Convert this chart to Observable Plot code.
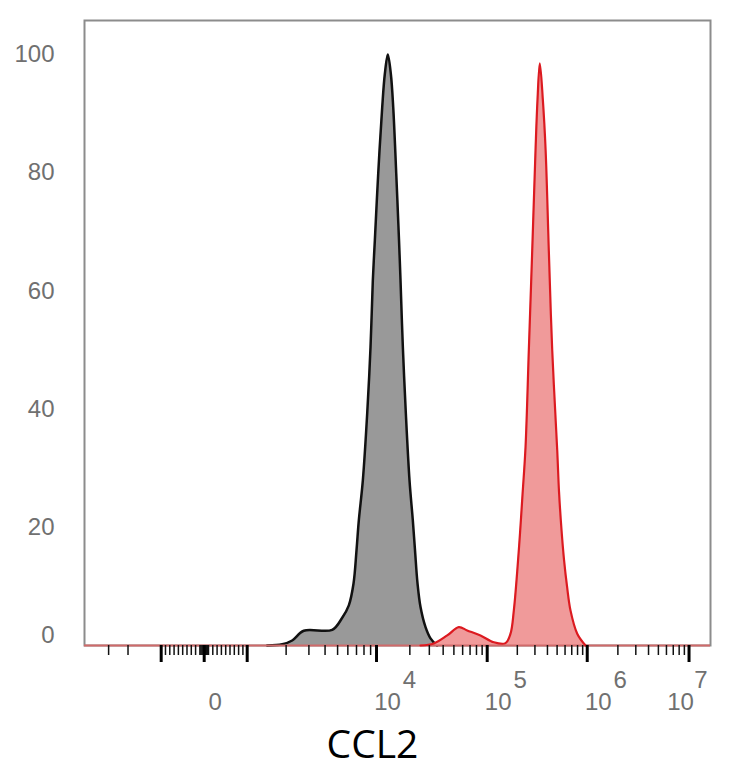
<!DOCTYPE html>
<html>
<head>
<meta charset="utf-8">
<script src="https://cdn.jsdelivr.net/npm/d3@7"></script>
<script src="https://cdn.jsdelivr.net/npm/@observablehq/plot@0.6"></script>
<style>
  html, body { margin: 0; padding: 0; background: #fff; }
</style>
</head>
<body>
<div id="chart"></div>
<script>
// ---- data (fluorescence intensity vs. % of max) ----
const controlX = [1428, 1865, 2228, 2740, 4544, 5428, 6107, 6640, 7002, 7298, 7834, 8472, 8985, 9363, 9703, 10360, 11257, 11883, 12650, 13470, 14150, 15064, 15970, 16470, 17290, 18400, 19870, 21270, 22270, 23460, 24970, 27720, 30740, 35320];
const controlY = [0, 0.2, 0.85, 2.5, 2.65, 4.7, 6.8, 10.5, 16.1, 21.2, 27.9, 39.3, 50.5, 61.8, 68.5, 79.9, 91.1, 96.7, 100, 96.7, 91.1, 79.9, 68.5, 61.8, 50.5, 39.3, 27.9, 21.2, 16.1, 10.5, 6.5, 3.1, 1.2, 0];

const ccl2X = [24970, 32930, 43520, 55390, 65960, 86990, 116400, 152400, 171000, 184500, 199500, 212800, 225400, 241500, 260600, 281800, 304100, 318400, 335700, 359700, 383700, 413000, 446700, 501200, 522400, 553400, 586100, 628100, 680800, 794300, 961600];
const ccl2Y = [0, 0.35, 1.7, 3.1, 2.55, 1.7, 0.55, 0.4, 2.0, 5.9, 12.5, 19.0, 25.5, 33.5, 49.9, 66.8, 83.8, 92.4, 98.5, 92.4, 83.8, 66.8, 49.9, 33.0, 26.0, 19.5, 14.5, 10.0, 5.9, 2.0, 0];

const yTicks = [0, 20, 40, 60, 80, 100];
const majorTicks = [-1000, 0, 1000, 1e4, 1e5, 1e6, 1e7];
const xLabels = [
  {v: 0, base: "0", exp: ""},
  {v: 1e4, base: "10", exp: "4"},
  {v: 1e5, base: "10", exp: "5"},
  {v: 1e6, base: "10", exp: "6"}
];
const xLabelsEdge = [{v: 1e7, base: "10", exp: "7"}];
const axisTitle = "CCL2";

// ---- biexponential-like axis transform (value -> 0..1 of axis width) ----
const zeroPos = 0.1912, linHalf = 0.0687, negDecade = 0.176;
const decadeStops = [[3, 0.2599], [4, 0.4665], [5, 0.6433], [6, 0.8031], [7, 0.9657]];
function biex(v) {
  if (Math.abs(v) <= 1000) return zeroPos + (v / 1000) * linHalf;
  if (v < -1000) return zeroPos - linHalf - (Math.log10(-v) - 3) * negDecade;
  const l = Math.log10(v);
  for (let i = 0; i < decadeStops.length - 1; i++) {
    const [a, pa] = decadeStops[i], [b, pb] = decadeStops[i + 1];
    if (l <= b) return pa + (l - a) / (b - a) * (pb - pa);
  }
  const [a, pa] = decadeStops[decadeStops.length - 2], [b, pb] = decadeStops[decadeStops.length - 1];
  return pb + (l - b) * (pb - pa);
}

// minor ticks
const minorTicks = [-3000, -2000];
for (let k = -900; k <= 900; k += 100) if (k !== 0) minorTicks.push(k);
[-75, -50, -25, 25, 50, 75].forEach(k => minorTicks.push(k));
for (let d = 3; d <= 6; d++) for (let m = 2; m <= 9; m++) minorTicks.push(m * Math.pow(10, d));

const controlRows = controlX.map((v, i) => ({u: biex(v), y: controlY[i]}));
const ccl2Rows = ccl2X.map((v, i) => ({u: biex(v), y: ccl2Y[i]}));

const gray = "#707070";
const red = "#dc1a20";
const curve = "catmull-rom";

const chart = Plot.plot({
  width: 734,
  height: 768,
  marginLeft: 84,
  marginRight: 24,
  marginTop: 20,
  marginBottom: 123,
  style: {fontFamily: "Liberation Sans, Arial, sans-serif", fontSize: "24px", background: "#fff"},
  x: {domain: [0, 1], axis: null},
  y: {domain: [0, 105.75], axis: null},
  marks: [
    Plot.frame({stroke: "#8c8c8c", strokeWidth: 2}),
    Plot.areaY(controlRows, {x: "u", y: "y", fill: "#999999", curve}),
    Plot.lineY(controlRows, {x: "u", y: "y", stroke: "#111", strokeWidth: 2.5, curve}),
    Plot.areaY(ccl2Rows, {x: "u", y: "y", fill: "#f09a9a", curve}),
    Plot.ruleY([0], {stroke: "#d06a6a", strokeWidth: 2}),
    Plot.lineY(ccl2Rows, {x: "u", y: "y", stroke: red, strokeWidth: 2.2, curve}),
    Plot.axisX({ticks: minorTicks.map(biex), tickSize: 10, strokeWidth: 1.5, stroke: "#111", tickFormat: () => "", label: null}),
    Plot.axisX({ticks: majorTicks.map(biex), tickSize: 17, strokeWidth: 3, stroke: "#000", tickFormat: () => "", label: null}),
    // x tick labels
    Plot.text(xLabels, {x: d => biex(d.v), text: "base", frameAnchor: "bottom", dy: 64, dx: 11, fill: gray, fontSize: 24}),
    Plot.text(xLabels, {x: d => biex(d.v), text: "exp", frameAnchor: "bottom", dy: 42, dx: 33, fill: gray, fontSize: 24}),
    Plot.text(xLabelsEdge, {x: d => biex(d.v), text: "base", frameAnchor: "bottom", dy: 64, dx: -8.5, fill: gray, fontSize: 24}),
    Plot.text(xLabelsEdge, {x: d => biex(d.v), text: "exp", frameAnchor: "bottom", dy: 42, dx: 12, fill: gray, fontSize: 24}),
    // y tick labels
    Plot.text(yTicks.filter(v => v > 0), {y: d => d, text: d => String(d), frameAnchor: "left", dx: -30, dy: 0, textAnchor: "end", fill: gray, fontSize: 24}),
    Plot.text(yTicks.filter(v => v === 0), {y: d => d, text: d => String(d), frameAnchor: "left", dx: -30, dy: -10, textAnchor: "end", fill: gray, fontSize: 24}),
    // axis title
    Plot.text([axisTitle], {text: d => d, frameAnchor: "bottom", dy: 112, dx: -25, fill: "#000", fontSize: 39, fontFamily: "Open Sans"})
  ]
});
document.getElementById("chart").appendChild(chart);
</script>
</body>
</html>
